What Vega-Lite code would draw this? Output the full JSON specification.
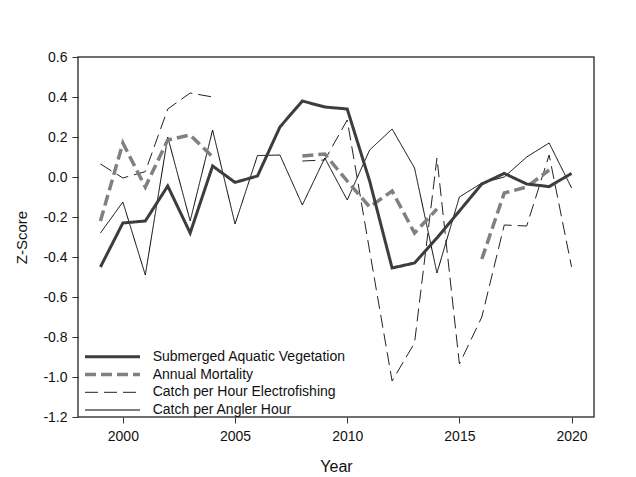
{
  "$schema": "https://vega.github.io/schema/vega-lite/v6.json",
  "width": 516,
  "height": 360,
  "autosize": {"type": "none"},
  "padding": {"left": 78, "top": 57, "right": 42, "bottom": 60},
  "background": "white",
  "config": {
    "view": {"stroke": "#404040", "strokeWidth": 1.5},
    "font": "Liberation Sans",
    "mark": {"invalid": "break-paths-show-domains"},
    "legend": {
      "title": null,
      "orient": "none",
      "symbolType": "stroke",
      "symbolSize": 3025,
      "labelFontSize": 14,
      "labelColor": "#111111",
      "labelLimit": 400,
      "padding": 0
    },
    "axis": {
      "domain": false,
      "grid": false,
      "tickColor": "#333333",
      "tickSize": 6,
      "labelColor": "#111111",
      "labelFontSize": 14,
      "labelFont": "Liberation Sans",
      "titleFont": "Liberation Sans",
      "titleFontWeight": "normal",
      "titleColor": "#111111"
    }
  },
  "data": {
    "values": [
      {"year": 1999, "series": "Submerged Aquatic Vegetation", "z": -0.45},
      {"year": 2000, "series": "Submerged Aquatic Vegetation", "z": -0.23},
      {"year": 2001, "series": "Submerged Aquatic Vegetation", "z": -0.22},
      {"year": 2002, "series": "Submerged Aquatic Vegetation", "z": -0.045},
      {"year": 2003, "series": "Submerged Aquatic Vegetation", "z": -0.28},
      {"year": 2004, "series": "Submerged Aquatic Vegetation", "z": 0.055},
      {"year": 2005, "series": "Submerged Aquatic Vegetation", "z": -0.027},
      {"year": 2006, "series": "Submerged Aquatic Vegetation", "z": 0.005},
      {"year": 2007, "series": "Submerged Aquatic Vegetation", "z": 0.25},
      {"year": 2008, "series": "Submerged Aquatic Vegetation", "z": 0.38},
      {"year": 2009, "series": "Submerged Aquatic Vegetation", "z": 0.35},
      {"year": 2010, "series": "Submerged Aquatic Vegetation", "z": 0.34},
      {"year": 2011, "series": "Submerged Aquatic Vegetation", "z": -0.02},
      {"year": 2012, "series": "Submerged Aquatic Vegetation", "z": -0.455},
      {"year": 2013, "series": "Submerged Aquatic Vegetation", "z": -0.43},
      {"year": 2014, "series": "Submerged Aquatic Vegetation", "z": -0.305},
      {"year": 2015, "series": "Submerged Aquatic Vegetation", "z": -0.17},
      {"year": 2016, "series": "Submerged Aquatic Vegetation", "z": -0.035},
      {"year": 2017, "series": "Submerged Aquatic Vegetation", "z": 0.018},
      {"year": 2018, "series": "Submerged Aquatic Vegetation", "z": -0.035},
      {"year": 2019, "series": "Submerged Aquatic Vegetation", "z": -0.048},
      {"year": 2020, "series": "Submerged Aquatic Vegetation", "z": 0.018},

      {"year": 1999, "series": "Annual Mortality", "z": -0.22},
      {"year": 2000, "series": "Annual Mortality", "z": 0.17},
      {"year": 2001, "series": "Annual Mortality", "z": -0.05},
      {"year": 2002, "series": "Annual Mortality", "z": 0.185},
      {"year": 2003, "series": "Annual Mortality", "z": 0.21},
      {"year": 2004, "series": "Annual Mortality", "z": 0.10},
      {"year": 2005, "series": "Annual Mortality", "z": null},
      {"year": 2008, "series": "Annual Mortality", "z": 0.105},
      {"year": 2009, "series": "Annual Mortality", "z": 0.115},
      {"year": 2010, "series": "Annual Mortality", "z": -0.02},
      {"year": 2011, "series": "Annual Mortality", "z": -0.15},
      {"year": 2012, "series": "Annual Mortality", "z": -0.07},
      {"year": 2013, "series": "Annual Mortality", "z": -0.28},
      {"year": 2014, "series": "Annual Mortality", "z": -0.16},
      {"year": 2015, "series": "Annual Mortality", "z": null},
      {"year": 2016, "series": "Annual Mortality", "z": -0.41},
      {"year": 2017, "series": "Annual Mortality", "z": -0.08},
      {"year": 2018, "series": "Annual Mortality", "z": -0.05},
      {"year": 2019, "series": "Annual Mortality", "z": 0.035},

      {"year": 1999, "series": "Catch per Hour Electrofishing", "z": 0.065},
      {"year": 2000, "series": "Catch per Hour Electrofishing", "z": -0.005},
      {"year": 2001, "series": "Catch per Hour Electrofishing", "z": 0.027},
      {"year": 2002, "series": "Catch per Hour Electrofishing", "z": 0.34},
      {"year": 2003, "series": "Catch per Hour Electrofishing", "z": 0.42},
      {"year": 2004, "series": "Catch per Hour Electrofishing", "z": 0.40},
      {"year": 2005, "series": "Catch per Hour Electrofishing", "z": null},
      {"year": 2008, "series": "Catch per Hour Electrofishing", "z": 0.08},
      {"year": 2009, "series": "Catch per Hour Electrofishing", "z": 0.085},
      {"year": 2010, "series": "Catch per Hour Electrofishing", "z": 0.285},
      {"year": 2011, "series": "Catch per Hour Electrofishing", "z": -0.37},
      {"year": 2012, "series": "Catch per Hour Electrofishing", "z": -1.02},
      {"year": 2013, "series": "Catch per Hour Electrofishing", "z": -0.83},
      {"year": 2014, "series": "Catch per Hour Electrofishing", "z": 0.095},
      {"year": 2015, "series": "Catch per Hour Electrofishing", "z": -0.935},
      {"year": 2016, "series": "Catch per Hour Electrofishing", "z": -0.70},
      {"year": 2017, "series": "Catch per Hour Electrofishing", "z": -0.24},
      {"year": 2018, "series": "Catch per Hour Electrofishing", "z": -0.245},
      {"year": 2019, "series": "Catch per Hour Electrofishing", "z": 0.11},
      {"year": 2020, "series": "Catch per Hour Electrofishing", "z": -0.45},

      {"year": 1999, "series": "Catch per Angler Hour", "z": -0.28},
      {"year": 2000, "series": "Catch per Angler Hour", "z": -0.125},
      {"year": 2001, "series": "Catch per Angler Hour", "z": -0.49},
      {"year": 2002, "series": "Catch per Angler Hour", "z": 0.20},
      {"year": 2003, "series": "Catch per Angler Hour", "z": -0.22},
      {"year": 2004, "series": "Catch per Angler Hour", "z": 0.235},
      {"year": 2005, "series": "Catch per Angler Hour", "z": -0.235},
      {"year": 2006, "series": "Catch per Angler Hour", "z": 0.107},
      {"year": 2007, "series": "Catch per Angler Hour", "z": 0.11},
      {"year": 2008, "series": "Catch per Angler Hour", "z": -0.14},
      {"year": 2009, "series": "Catch per Angler Hour", "z": 0.095},
      {"year": 2010, "series": "Catch per Angler Hour", "z": -0.115},
      {"year": 2011, "series": "Catch per Angler Hour", "z": 0.135},
      {"year": 2012, "series": "Catch per Angler Hour", "z": 0.24},
      {"year": 2013, "series": "Catch per Angler Hour", "z": 0.045},
      {"year": 2014, "series": "Catch per Angler Hour", "z": -0.48},
      {"year": 2015, "series": "Catch per Angler Hour", "z": -0.10},
      {"year": 2016, "series": "Catch per Angler Hour", "z": -0.03},
      {"year": 2017, "series": "Catch per Angler Hour", "z": 0.0},
      {"year": 2018, "series": "Catch per Angler Hour", "z": 0.10},
      {"year": 2019, "series": "Catch per Angler Hour", "z": 0.17},
      {"year": 2020, "series": "Catch per Angler Hour", "z": -0.055}
    ]
  },
  "encoding": {
    "x": {
      "field": "year",
      "type": "quantitative",
      "scale": {"domain": [1998, 2021], "nice": false, "zero": false},
      "axis": {"values": [2000, 2005, 2010, 2015, 2020], "format": "d", "title": "Year", "titleFontSize": 16, "labelPadding": 6, "titlePadding": 15}
    },
    "y": {
      "field": "z",
      "type": "quantitative",
      "scale": {"domain": [-1.2, 0.6], "nice": false, "zero": false},
      "axis": {
        "values": [-1.2, -1.0, -0.8, -0.6, -0.4, -0.2, 0.0, 0.2, 0.4, 0.6],
        "labelExpr": "replace(format(datum.value, '.1f'), '\u2212', '-')",
        "title": "Z-Score",
        "titleFontSize": 15,
        "labelPadding": 5,
        "titlePadding": 13
      }
    }
  },
  "layer": [
    {
      "data": {"values": [{}]},
      "mark": {"type": "rule", "color": "#555555", "strokeWidth": 1},
      "encoding": {
        "y": {"datum": 0},
        "x": null
      }
    },
    {
      "transform": [{"filter": "datum.series == 'Catch per Angler Hour'"}],
      "mark": {"type": "line", "strokeWidth": 1},
      "encoding": {
        "color": {"field": "series", "type": "nominal",
          "scale": {"domain": ["Catch per Angler Hour"], "range": ["#000000"]},
          "legend": {"legendX": 6.5, "legendY": 325, "labelOffset": 12.2, "symbolStrokeWidth": 1}},
        "strokeDash": {"field": "series", "type": "nominal",
          "scale": {"domain": ["Catch per Angler Hour"], "range": [[1, 0]]}, "legend": null}
      }
    },
    {
      "transform": [{"filter": "datum.series == 'Catch per Hour Electrofishing'"}],
      "mark": {"type": "line", "strokeWidth": 1},
      "encoding": {
        "color": {"field": "series", "type": "nominal",
          "scale": {"domain": ["Catch per Hour Electrofishing"], "range": ["#222222"]},
          "legend": {"legendX": 6.5, "legendY": 307.3, "labelOffset": 12.2, "symbolStrokeWidth": 1}},
        "strokeDash": {"field": "series", "type": "nominal",
          "scale": {"domain": ["Catch per Hour Electrofishing"], "range": [[13, 6]]}, "legend": null}
      }
    },
    {
      "transform": [{"filter": "datum.series == 'Annual Mortality'"}],
      "mark": {"type": "line", "strokeWidth": 3.5},
      "encoding": {
        "color": {"field": "series", "type": "nominal",
          "scale": {"domain": ["Annual Mortality"], "range": ["#808080"]},
          "legend": {"legendX": 5, "legendY": 288, "labelOffset": 10.7, "symbolStrokeWidth": 3.5}},
        "strokeDash": {"field": "series", "type": "nominal",
          "scale": {"domain": ["Annual Mortality"], "range": [[11, 5]]}, "legend": null}
      }
    },
    {
      "transform": [{"filter": "datum.series == 'Submerged Aquatic Vegetation'"}],
      "mark": {"type": "line", "strokeWidth": 3},
      "encoding": {
        "color": {"field": "series", "type": "nominal",
          "scale": {"domain": ["Submerged Aquatic Vegetation"], "range": ["#3d3d3d"]},
          "legend": {"legendX": 5.5, "legendY": 270.7, "labelOffset": 11.2, "symbolStrokeWidth": 3}},
        "strokeDash": {"field": "series", "type": "nominal",
          "scale": {"domain": ["Submerged Aquatic Vegetation"], "range": [[1, 0]]}, "legend": null}
      }
    }
  ],
  "resolve": {
    "scale": {"color": "independent", "strokeDash": "independent"},
    "legend": {"color": "independent", "strokeDash": "independent"}
  }
}
